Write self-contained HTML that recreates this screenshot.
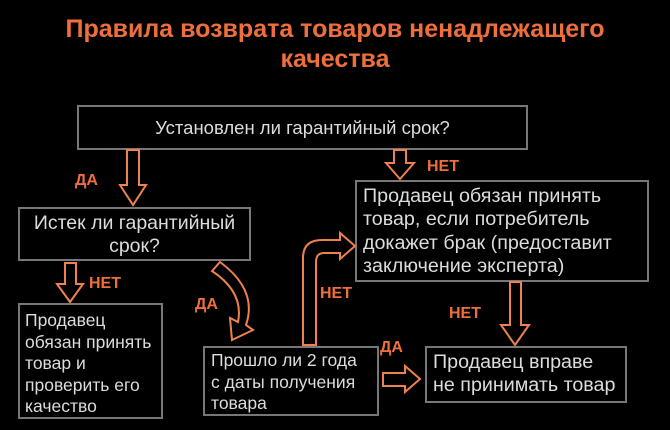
<!DOCTYPE html>
<html><head><meta charset="utf-8"><style>
body{margin:0;background:#000;width:670px;height:430px;overflow:hidden;position:relative;font-family:"Liberation Sans","DejaVu Sans",sans-serif}
.t{position:absolute;left:0;width:670px;text-align:center;color:#ef6f3c;font-weight:bold;font-size:25px;line-height:30px}
.b{position:absolute;border:2px solid #777;box-sizing:border-box;color:#dcdcdc;white-space:nowrap}
.l{position:absolute;color:#ef6f3c;font-weight:bold;font-size:16px}
svg{position:absolute;left:0;top:0}
</style></head><body>
<div class="t" style="top:14px">Правила возврата товаров ненадлежащего</div>
<div class="t" style="top:44px">качества</div>

<div class="b" style="left:77px;top:105px;width:451px;height:45px;text-align:center;padding-top:10px;font-size:18.5px;line-height:22px">Установлен ли гарантийный срок?</div>
<div class="b" style="left:18px;top:207px;width:233px;height:54px;text-align:center;padding-top:3px;font-size:19.5px;line-height:23px">Истек ли гарантийный<br>срок?</div>
<div class="b" style="left:18px;top:303px;width:145px;height:116px;padding:5px 0 0 5px;font-size:17.5px;line-height:21.5px">Продавец<br>обязан принять<br>товар и<br>проверить его<br>качество</div>
<div class="b" style="left:203px;top:346px;width:176px;height:70px;padding:2px 0 0 6px;font-size:17.5px;line-height:21.5px">Прошло ли 2 года<br>с даты получения<br>товара</div>
<div class="b" style="left:355px;top:180px;width:294px;height:102px;padding:3px 0 0 6px;font-size:19.7px;line-height:23.3px">Продавец обязан принять<br>товар, если потребитель<br>докажет брак (предоставит<br>заключение эксперта)</div>
<div class="b" style="left:425px;top:346px;width:202px;height:57px;padding:3px 0 0 6px;font-size:19.7px;line-height:23px">Продавец вправе<br>не принимать товар</div>

<div class="l" style="left:75px;top:172px">ДА</div>
<div class="l" style="left:89px;top:275px">НЕТ</div>
<div class="l" style="left:195px;top:296px">ДА</div>
<div class="l" style="left:320px;top:285px">НЕТ</div>
<div class="l" style="left:427px;top:158px">НЕТ</div>
<div class="l" style="left:449px;top:305px">НЕТ</div>
<div class="l" style="left:380px;top:339px">ДА</div>

<svg width="670" height="430" fill="none" stroke="#ef8050" stroke-width="2" stroke-linejoin="miter">
<polygon points="127,150 139,150 139,185 146,185 133,205 120,185 127,185"/>
<polygon points="65,263 76,263 76,284 83,284 70,302 57,284 65,284"/>
<polygon points="394,150 406,150 406,163 414,163 400,179 386,163 394,163"/>
<polygon points="510,282 521,282 521,325 529,325 515,345 501,325 510,325"/>
<polygon points="383,373 405,373 405,366 420,379 405,392 405,386 383,386"/>
<path d="M303,345 L303,258 Q303,240 322,240 L340,240 L340,233 L355,246 L340,259 L340,253 L324,253 Q316,253 316,262 L316,345 Z"/>
<path d="M212,271 L220,262 Q258,290 246,325 L253,330 L232,340 L230,318 L238,322 Q244,292 212,271 Z"/>
</svg>
</body></html>
